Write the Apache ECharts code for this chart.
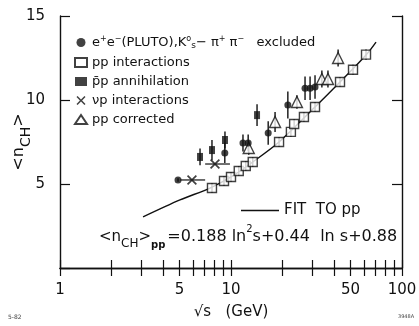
<!DOCTYPE html>
<html>
<head>
<meta charset="utf-8">
<script src="https://cdn.jsdelivr.net/npm/echarts@6/dist/echarts.min.js"></script>
<style>
  html, body { margin: 0; padding: 0; background: #fff; }
  #chart { width: 419px; height: 326px; }
</style>
</head>
<body>
<div id="chart"></div>
<script>
const FONT = 'DejaVu Sans';
const INK = '#111';

// pp interactions (open squares)
const ppRoots = [7.74, 9.1, 10, 11.1, 12.2, 13.4, 19.1, 22.4, 23.4, 26.7, 31, 43.4, 51.7, 61.6];
const ppMult = [4.76, 5.18, 5.42, 5.77, 6.07, 6.31, 7.5, 8.1, 8.57, 8.99, 9.58, 11.07, 11.8, 12.7];
const ppErr = [0.3, 0.3, 0.3, 0.3, 0.3, 0.3, 0.3, 0.3, 0.3, 0.3, 0.3, 0.3, 0.3, 0.3];

// e+e- PLUTO (filled circles)
const eeRoots = [4.9, 9.2, 11.75, 12.6, 16.5, 21.5, 27.1, 29.0, 31.0];
const eeMult = [5.24, 6.85, 7.44, 7.44, 8.04, 9.7, 10.7, 10.7, 10.77];
const eeErr = [0.1, 0.6, 0.5, 0.5, 0.7, 0.8, 0.7, 0.7, 0.7];

// pbar-p annihilation (filled squares)
const pbarRoots = [6.59, 7.74, 9.22, 14.2];
const pbarMult = [6.61, 7.02, 7.62, 9.1];
const pbarErr = [0.5, 0.6, 0.5, 0.65];

// nu-p interactions (crosses) with energy ranges
const nuRoots = [5.91, 8.06];
const nuMult = [5.24, 6.19];
const nuLow = [5.04, 7.06];
const nuHigh = [7.06, 9.86];

// pp corrected (open triangles)
const corrRoots = [12.7, 18.1, 24.3, 34.0, 36.9, 42.3];
const corrMult = [7.14, 8.69, 9.88, 11.25, 11.25, 12.5];
const corrErr = [0.4, 0.6, 0.4, 0.5, 0.5, 0.5];

// fit to pp
const fitRoots = [3.06, 5.03, 7.54, 10, 13.4, 19.1, 31, 43.4, 61.6, 70.5];
const fitMult = [3.04, 4.05, 4.76, 5.42, 6.31, 7.5, 9.58, 11.07, 12.68, 13.45];

// axes
const xTicks = [1, 2, 3, 4, 5, 6, 7, 8, 9, 10, 20, 30, 40, 50, 60, 70, 80, 90, 100];
const xLabels = [1, 5, 10, 50, 100];
const yLabels = [5, 10, 15];

const eeName = 'ee';
const ppName = 'pp';
const pbarName = 'pbar';
const nuName = 'nu';
const corrName = 'corr';
const fitName = 'fit';

const legendText = {
  ee: '{n|e}{u|+}{n|e}{u|−}{n|(PLUTO),K}{u|o}{d|s}{n|− π}{u|+}{n| π}{u|−}{n|   excluded}',
  pp: '{n|pp interactions}',
  pbar: '{n|p̄p annihilation}',
  nu: '{n|νp interactions}',
  corr: '{n|pp corrected}',
  fit: '{f|FIT  TO pp}'
};

const pairs = (xs, ys) => xs.map((x, i) => [x, ys[i]]);
const bars = (xs, ys, es) => xs.map((x, i) => [x, ys[i] - es[i], ys[i] + es[i]]);

const XPATH = 'path://M0,1.2L1.2,0L5,3.8L8.8,0L10,1.2L6.2,5L10,8.8L8.8,10L5,6.2L1.2,10L0,8.8L3.8,5Z';

function vBar(params, api) {
  const a = api.coord([api.value(0), api.value(1)]);
  const b = api.coord([api.value(0), api.value(2)]);
  return {type: 'line', shape: {x1: a[0], y1: a[1], x2: b[0], y2: b[1]},
    style: {stroke: INK, lineWidth: 1.4}};
}
function hBar(params, api) {
  const a = api.coord([api.value(0), api.value(2)]);
  const b = api.coord([api.value(1), api.value(2)]);
  return {type: 'line', shape: {x1: a[0], y1: a[1], x2: b[0], y2: b[1]},
    style: {stroke: INK, lineWidth: 1.2}};
}

const chart = echarts.init(document.getElementById('chart'), null, {renderer: 'canvas'});

const axisLine = {show: true, lineStyle: {color: INK, width: 1.4}};

chart.setOption({
  animation: false,
  backgroundColor: '#fff',
  textStyle: {fontFamily: FONT, color: INK},
  grid: {left: 60, right: 17, top: 16, bottom: 58, containLabel: false, outerBoundsMode: 'none'},
  xAxis: [{
    type: 'log', logBase: 10, min: 1, max: 100, position: 'bottom',
    axisLine: axisLine,
    axisTick: {show: true, inside: true, length: 8, customValues: xTicks, lineStyle: {color: INK, width: 1.2}},
    axisLabel: {customValues: xLabels, margin: 15, fontSize: 15, color: INK, fontFamily: FONT},
    splitLine: {show: false},
    minorTick: {show: false},
    name: '√s   (GeV)', nameLocation: 'middle', nameGap: 37,
    nameTextStyle: {fontSize: 15, color: INK, fontFamily: FONT}
  }, {
    type: 'log', logBase: 10, min: 1, max: 100, position: 'top',
    axisLine: axisLine,
    axisTick: {show: true, inside: true, length: 8, customValues: xTicks, lineStyle: {color: INK, width: 1.2}},
    axisLabel: {show: false},
    splitLine: {show: false}
  }],
  yAxis: [{
    type: 'value', min: 0, max: 15, interval: 5, position: 'left',
    axisLine: axisLine,
    axisTick: {show: true, inside: true, length: 10, lineStyle: {color: INK, width: 1.2}},
    axisLabel: {customValues: yLabels, margin: 15, fontSize: 15, color: INK, fontFamily: FONT},
    splitLine: {show: false},
    name: '{n|<n}{s|CH}{n|>}', nameLocation: 'middle', nameGap: 27, nameRotate: 90,
    nameMoveOverlap: false,
    nameTextStyle: {rich: {
      n: {fontSize: 16, fontFamily: FONT, color: INK, lineHeight: 22, verticalAlign: 'top'},
      s: {fontSize: 14, fontFamily: FONT, color: INK, lineHeight: 16, verticalAlign: 'bottom'}
    }}
  }, {
    type: 'value', min: 0, max: 15, interval: 5, position: 'right',
    axisLine: axisLine,
    axisTick: {show: true, inside: true, length: 10, lineStyle: {color: INK, width: 1.2}},
    axisLabel: {show: false},
    splitLine: {show: false}
  }],
  legend: [{
    orient: 'vertical', left: 69, top: 30, itemWidth: 12, itemHeight: 9, itemGap: 6,
    data: [eeName, ppName, pbarName, nuName, corrName],
    formatter: name => legendText[name],
    textStyle: {rich: {
      n: {fontSize: 13, fontFamily: FONT, color: INK, lineHeight: 15},
      u: {fontSize: 8, fontFamily: FONT, color: INK, verticalAlign: 'top', lineHeight: 8},
      d: {fontSize: 9, fontFamily: FONT, color: INK, verticalAlign: 'bottom', lineHeight: 9}
    }}
  }, {
    orient: 'horizontal', left: 236, top: 198, itemWidth: 38, itemHeight: 1.5,
    data: [{name: fitName, icon: 'rect'}],
    formatter: name => legendText[name],
    textStyle: {rich: {f: {fontSize: 15, fontFamily: FONT, color: INK}}}
  }],
  graphic: [{
    type: 'text', left: 99, top: 224,
    style: {
      text: '{b|<n}{s|CH}{b|>}{p|pp}{t|=0.188 ln}{u|2}{t|s+0.44  ln s+0.88}',
      rich: {
        b: {fontSize: 15, fontFamily: FONT, fill: INK, lineHeight: 26, verticalAlign: 'middle'},
        s: {fontSize: 12, fontFamily: FONT, fill: INK, lineHeight: 17, verticalAlign: 'bottom'},
        p: {fontSize: 10, fontWeight: 'bold', fontFamily: FONT, fill: INK, lineHeight: 11, verticalAlign: 'bottom', padding: [0, 2, 0, 0]},
        t: {fontSize: 16, fontFamily: FONT, fill: INK, lineHeight: 26, verticalAlign: 'middle'},
        u: {fontSize: 10, fontFamily: FONT, fill: INK, lineHeight: 10, verticalAlign: 'top'}
      }
    }
  }, {
    type: 'text', left: 8, top: 314, style: {text: '5-82', fontSize: 6, fontFamily: FONT, fill: '#444'}
  }, {
    type: 'text', left: 398, top: 314, style: {text: '3948A', fontSize: 5, fontFamily: FONT, fill: '#444'}
  }],
  series: [{
    type: 'custom', name: 'errors', renderItem: vBar, z: 1,
    encode: {x: 0, y: [1, 2]},
    data: [].concat(
      bars(ppRoots, ppMult, ppErr),
      bars(eeRoots, eeMult, eeErr),
      bars(pbarRoots, pbarMult, pbarErr),
      bars(corrRoots, corrMult, corrErr))
  }, {
    type: 'custom', name: 'ranges', renderItem: hBar, z: 1,
    encode: {x: [0, 1], y: 2},
    data: nuRoots.map((r, i) => [nuLow[i], nuHigh[i], nuMult[i]])
  }, {
    type: 'line', name: fitName, data: pairs(fitRoots, fitMult), smooth: 0.3,
    symbol: 'none', lineStyle: {color: INK, width: 1.4}, itemStyle: {color: INK}, z: 2
  }, {
    type: 'scatter', name: ppName, data: pairs(ppRoots, ppMult), symbol: 'rect', symbolSize: 9,
    itemStyle: {color: '#fff', borderColor: INK, borderWidth: 1.4}, z: 3
  }, {
    type: 'scatter', name: eeName, data: pairs(eeRoots, eeMult), symbol: 'circle', symbolSize: 7,
    itemStyle: {color: INK}, z: 4
  }, {
    type: 'scatter', name: pbarName, data: pairs(pbarRoots, pbarMult), symbol: 'rect', symbolSize: [6, 8],
    itemStyle: {color: INK}, z: 4
  }, {
    type: 'scatter', name: nuName, data: pairs(nuRoots, nuMult), symbol: XPATH, symbolSize: 10,
    itemStyle: {color: INK}, z: 4
  }, {
    type: 'scatter', name: corrName, data: pairs(corrRoots, corrMult), symbol: 'triangle', symbolSize: 11,
    itemStyle: {color: '#fff', borderColor: INK, borderWidth: 1.4}, z: 3
  }]
});
</script>
</body>
</html>
